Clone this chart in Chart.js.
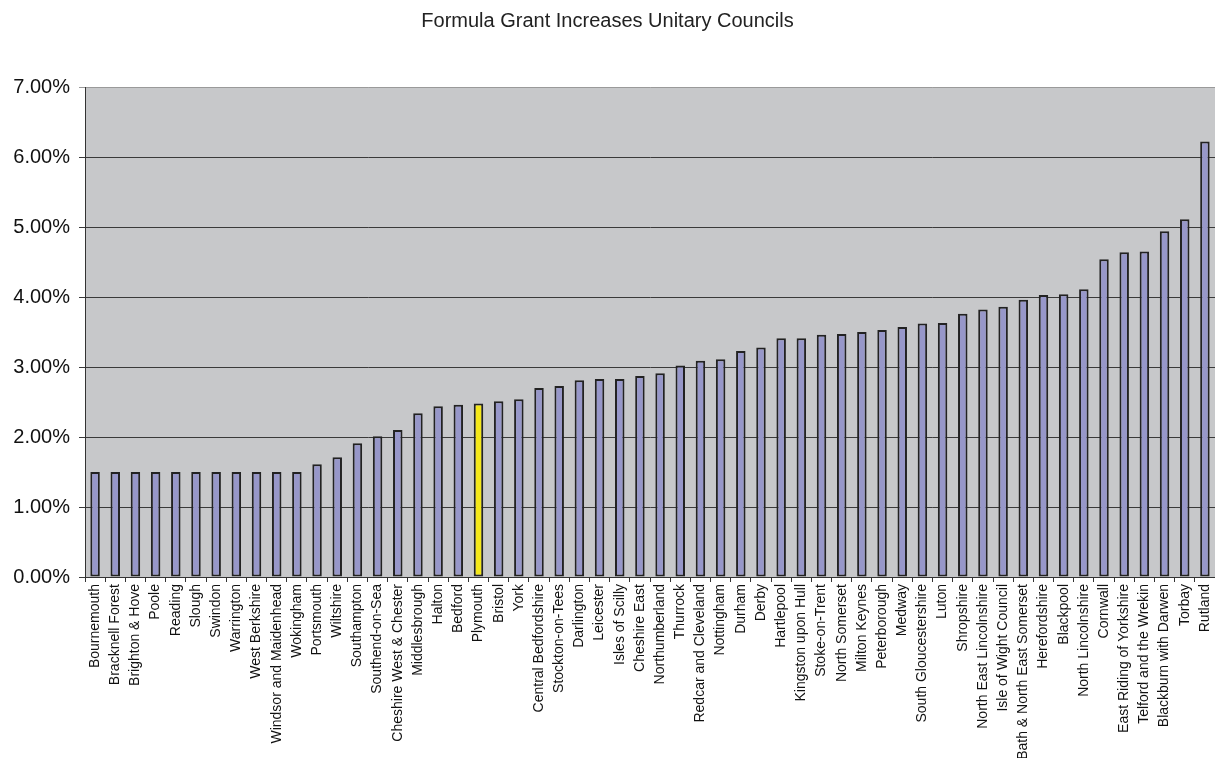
<!DOCTYPE html>
<html>
<head>
<meta charset="utf-8">
<title>Formula Grant Increases Unitary Councils</title>
<script src="https://cdn.jsdelivr.net/npm/chart.js@4/dist/chart.umd.min.js"></script>
<style>
  html, body { margin: 0; padding: 0; background: #fff; }
  #wrap { width: 1215px; height: 758px; }
</style>
</head>
<body>
<div id="wrap"><canvas id="grantChart"></canvas></div>
<script>
// councils, lowest increase first
const councils = [
  'Bournemouth', 'Bracknell Forest', 'Brighton & Hove', 'Poole', 'Reading', 'Slough',
  'Swindon', 'Warrington', 'West Berkshire', 'Windsor and Maidenhead', 'Wokingham',
  'Portsmouth', 'Wiltshire', 'Southampton', 'Southend-on-Sea', 'Cheshire West & Chester',
  'Middlesbrough', 'Halton', 'Bedford', 'Plymouth', 'Bristol', 'York',
  'Central Bedfordshire', 'Stockton-on-Tees', 'Darlington', 'Leicester', 'Isles of Scilly',
  'Cheshire East', 'Northumberland', 'Thurrock', 'Redcar and Cleveland', 'Nottingham',
  'Durham', 'Derby', 'Hartlepool', 'Kingston upon Hull', 'Stoke-on-Trent', 'North Somerset',
  'Milton Keynes', 'Peterborough', 'Medway', 'South Gloucestershire', 'Luton', 'Shropshire',
  'North East Lincolnshire', 'Isle of Wight Council', 'Bath & North East Somerset',
  'Herefordshire', 'Blackpool', 'North Lincolnshire', 'Cornwall', 'East Riding of Yorkshire',
  'Telford and the Wrekin', 'Blackburn with Darwen', 'Torbay', 'Rutland'
];

// grant increase in percent
const increases = [
  1.50, 1.50, 1.50, 1.50, 1.50, 1.50,
  1.50, 1.50, 1.50, 1.50, 1.50,
  1.61, 1.71, 1.91, 2.01, 2.10,
  2.34, 2.44, 2.46, 2.48, 2.51, 2.54,
  2.70, 2.73, 2.81, 2.83, 2.83,
  2.87, 2.91, 3.02, 3.09, 3.11,
  3.23, 3.28, 3.41, 3.41, 3.46, 3.47,
  3.50, 3.53, 3.57, 3.62, 3.63, 3.76,
  3.82, 3.86, 3.96,
  4.03, 4.04, 4.11, 4.54, 4.64,
  4.65, 4.94, 5.11, 6.22
];

const yTicks = [0, 1, 2, 3, 4, 5, 6, 7];
const highlight = 'Plymouth';

const barFill = councils.map(c => c === highlight ? '#f4e81a' : '#9797c9');

// grey plot background
const plotBg = {
  id: 'plotBg',
  beforeDraw(chart) {
    const a = chart.chartArea;
    const c = chart.ctx;
    c.save();
    c.fillStyle = '#c7c8ca';
    c.fillRect(a.left, a.top, a.right - a.left, a.bottom - a.top);
    c.restore();
  }
};

new Chart(document.getElementById('grantChart'), {
  type: 'bar',
  data: {
    labels: councils,
    datasets: [{
      data: increases,
      backgroundColor: barFill,
      borderColor: '#222',
      borderWidth: 2,
      borderSkipped: false,
      barPercentage: 0.47,
      categoryPercentage: 1
    }]
  },
  options: {
    responsive: true,
    maintainAspectRatio: false,
    animation: false,
    layout: { padding: 0 },
    plugins: {
      legend: { display: false },
      tooltip: { enabled: false },
      title: {
        display: true,
        text: 'Formula Grant Increases Unitary Councils',
        color: '#222',
        font: { family: 'Liberation Sans, Arial, sans-serif', size: 20, weight: 'normal' },
        padding: { top: 9, bottom: 54 }
      }
    },
    scales: {
      x: {
        offset: true,
        grid: {
          offset: true,
          drawOnChartArea: false,
          tickLength: 5,
          color: '#333'
        },
        border: { color: '#333', width: 1 },
        ticks: {
          autoSkip: false,
          minRotation: 90,
          maxRotation: 90,
          padding: 2,
          color: '#111',
          font: { family: 'Liberation Sans, Arial, sans-serif', size: 14 }
        },
        afterFit(scale) {
          scale.height = 181;
          scale.paddingLeft = 0;
          scale.paddingRight = 0;
        }
      },
      y: {
        min: yTicks[0],
        max: yTicks[yTicks.length - 1],
        afterBuildTicks(scale) {
          scale.ticks = yTicks.map(v => ({ value: v }));
        },
        grid: {
          color: ctx => ctx.tick && ctx.tick.value === 7 ? '#9a9a9a' : '#3a3a3a',
          lineWidth: 1,
          tickLength: 6
        },
        border: { color: '#333', width: 1 },
        ticks: {
          padding: 9,
          color: '#111',
          font: { family: 'Liberation Sans, Arial, sans-serif', size: 20 },
          callback: v => Number(v).toFixed(2) + '%'
        },
        afterFit(scale) { scale.width = 85; }
      }
    }
  },
  plugins: [plotBg]
});
</script>
</body>
</html>
